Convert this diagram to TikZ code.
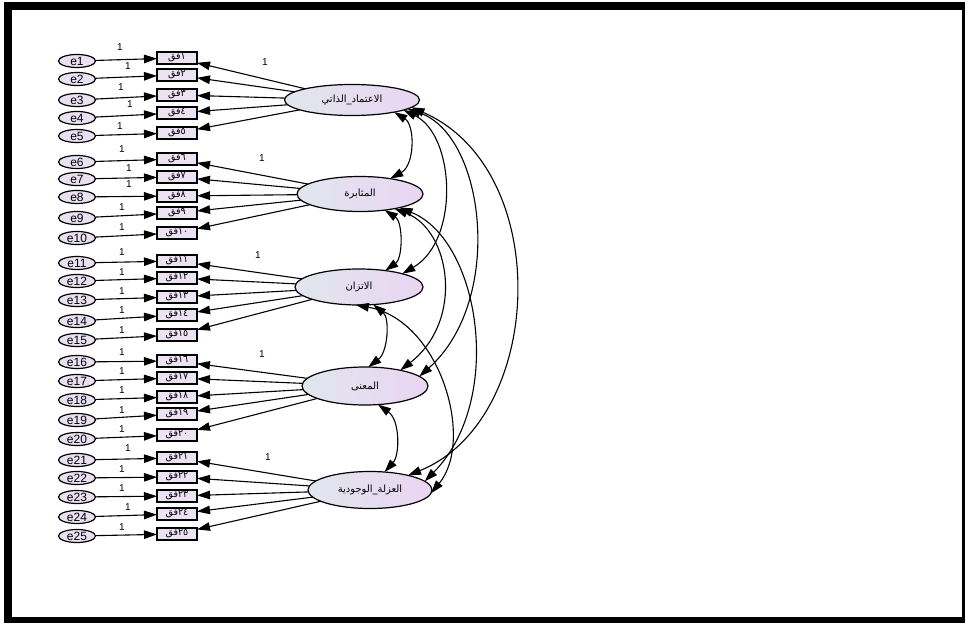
\documentclass[tikz,border=0pt]{standalone}
\usepackage{fontspec}
\setmainfont{Liberation Sans}
\newfontfamily\arfont[Script=Arabic]{DejaVu Sans}
\TeXXeTstate=1
\usetikzlibrary{arrows.meta,shapes.geometric}
\definecolor{errfill}{RGB}{233,225,242}
\definecolor{obsfill}{RGB}{236,226,243}
\definecolor{latL}{RGB}{225,230,238}
\definecolor{latR}{RGB}{234,213,242}
\newcommand\myfq[1]{\hbox{\arfont فق}\hbox{\arfont #1}}
\begin{document}
\begin{tikzpicture}[x=1pt,y=-1pt,
  every node/.style={inner sep=0pt,outer sep=0pt},
  err/.style={ellipse,draw,line width=1.2pt,fill=errfill,minimum width=37pt,minimum height=13pt,font=\fontsize{12}{13}\selectfont},
  obs/.style={rectangle,draw,line width=1.1pt,fill=obsfill,minimum width=40pt,minimum height=12pt,font=\fontsize{9.5}{10}\selectfont},
  lat/.style={ellipse,draw,line width=1.2pt,left color=latL,right color=latR,font=\fontsize{10}{11}\arfont},
  arr/.style={line width=1.1pt,-{Triangle[length=13pt,width=8.5pt]}},
  cov/.style={line width=1.1pt,{Triangle[length=13pt,width=8.5pt]}-{Triangle[length=13pt,width=8.5pt]}},
  one/.style={font=\fontsize{10}{11}\selectfont}
]
\useasboundingbox (0,0) rectangle (965,623);
\fill[white] (0,0) rectangle (965,623);
\fill[black] (4,2) rectangle (965,623);
\fill[white] (12,10) rectangle (962,617);

% latent variables
\node[lat,minimum width=135pt,minimum height=31pt] (F1) at (352,100) {\beginR الاعتماد\_الذاتي\endR};
\node[lat,minimum width=126pt,minimum height=35pt] (F2) at (360,194) {\beginR المثابرة\endR};
\node[lat,minimum width=128pt,minimum height=36pt] (F3) at (359,287) {\beginR الاتزان\endR};
\node[lat,minimum width=126pt,minimum height=38pt] (F4) at (365,386) {\beginR المعنى\endR};
\node[lat,minimum width=124pt,minimum height=37pt] (F5) at (370,490) {\beginR العزلة\_الوجودية\endR};

% errors, indicators
\foreach \i/\ey/\by/\lx/\ly/\ar in {
 1/61/58/120/47/١, 2/79/75/128/66/٢, 3/100/95/121/87/٣, 4/118/113/130/104/٤, 5/136/133/120/126/٥,
 6/162/159/122/149/٦, 7/179/177/129/168/٧, 8/197/196/129/184/٨, 9/218/213/122/207/٩, 10/238/233/122/227/١٠,
 11/263/261/122/252/١١, 12/281/278/122/272/١٢, 13/300/297/122/291/١٣, 14/321/315/122/310/١٤, 15/340/335/122/330/١٥,
 16/362/361/122/352/١٦, 17/381/378/122/371/١٧, 18/400/397/122/390/١٨, 19/420/414/122/410/١٩, 20/439/435/122/429/٢٠,
 21/460/458/128/448/٢١, 22/478/477/122/469/٢٢, 23/497/496/122/488/٢٣, 24/517/514/128/507/٢٤, 25/536/534/122/527/٢٥}{
  \node[err] (e\i) at (77,\ey) {e\i};
  \node[obs] (b\i) at (177,\by) {\myfq{\ar}};
  \draw[arr] (e\i) -- (b\i);
  \node[one] (l\i) at (\lx,\ly) {1};
}

% loadings
\foreach \i in {1,...,25}{
  \pgfmathtruncatemacro\f{int((\i-1)/5)+1}
  \draw[arr] (F\f) -- (b\i);
}
\node[one] (w1) at (265,62) {1};
\node[one] (w2) at (262,158) {1};
\node[one] (w3) at (258,255) {1};
\node[one] (w4) at (262,354) {1};
\node[one] (w5) at (268,457) {1};

% covariances
\draw[cov] (F1.-16) .. controls (415,125) and (415,165) .. (F2.27);
\draw[cov] (F2.-33) .. controls (403,222) and (403,258) .. (F3.32);
\draw[cov] (F3.-51) .. controls (390,318) and (388,352) .. (F4.80);
\draw[cov] (F4.-55) .. controls (400,420) and (400,455) .. (F5.51);
\draw[cov] (F1.-11) .. controls (455,135) and (460,240) .. (F3.17);
\draw[cov] (F1.-9) .. controls (485,135) and (505,300) .. (F4.10);
\draw[cov] (F1.-7) .. controls (555,170) and (545,420) .. (F5.21);
\draw[cov] (F2.-23) .. controls (450,230) and (465,320) .. (F4.24);
\draw[cov] (F2.-19) .. controls (480,240) and (505,400) .. (F5.9);
\draw[cov] (F3.-100) .. controls (440,320) and (475,440) .. (F5.-3);
\end{tikzpicture}
\end{document}
